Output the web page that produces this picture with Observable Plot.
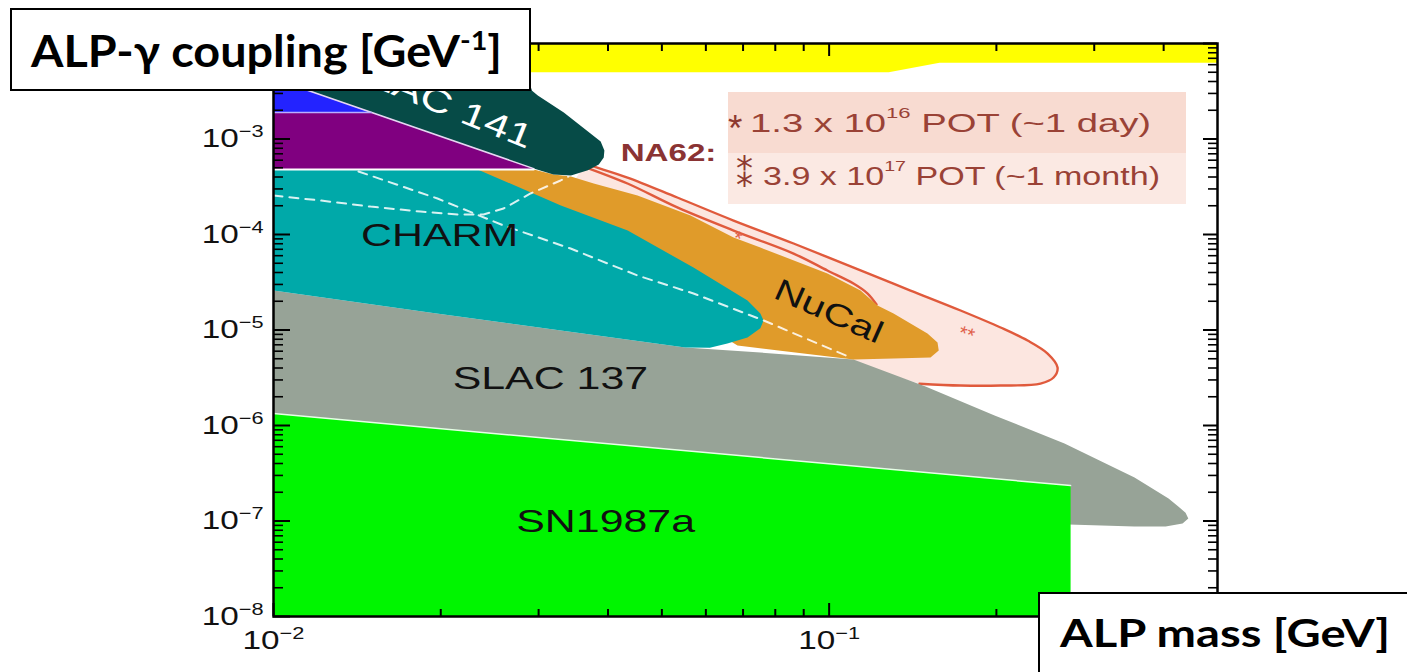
<!DOCTYPE html>
<html><head><meta charset="utf-8">
<script src="https://cdn.jsdelivr.net/npm/d3@7"></script>
<script src="https://cdn.jsdelivr.net/npm/@observablehq/plot@0.6"></script>
<style>
html,body{margin:0;padding:0;background:#fff;overflow:hidden;}
#wrap{position:relative;width:1407px;height:672px;overflow:hidden;background:#fff;}
#chart{position:absolute;left:0;top:0;}
.box{position:absolute;box-sizing:border-box;border:2.5px solid #000;background:#fff;}
.fit{position:absolute;display:inline-block;white-space:nowrap;transform-origin:0 0;}
.lab{font-family:Lato,"Open Sans",sans-serif;font-weight:700;color:#000;}
#legend{position:absolute;left:728px;top:92px;width:458px;height:112px;}
#legend .row1{position:absolute;left:0;top:0;width:458px;height:61px;background:#F8DBD1;}
#legend .row2{position:absolute;left:0;top:61px;width:458px;height:51px;background:#FBE9E3;}
#legend .t{font-family:"Liberation Sans",Arial,sans-serif;font-size:26px;line-height:26px;color:#9A4236;}
#legend .sp{font-size:15px;vertical-align:14px;line-height:0;}
#legend .ast{font-family:"Liberation Sans","DejaVu Sans",Arial,sans-serif;color:#8E3A30;}
</style></head><body>
<div id="wrap">
  <div id="chart"></div>
  <div id="legend">
    <div class="row1"></div><div class="row2"></div>
    <span class="fit ast" style="left:0px;top:18px;font-size:37px;line-height:37px;">*</span>
    <span class="fit t" data-w="401" style="left:22px;top:18px">1.3 x 10<span class="sp">16</span> POT (~1 day)</span>
    <span class="fit ast" style="left:8px;top:66px;font-size:34px;line-height:34px;font-family:'DejaVu Sans',sans-serif;">⁑</span>
    <span class="fit t" data-w="397" style="left:35px;top:71px">3.9 x 10<span class="sp">17</span> POT (~1 month)</span>
  </div>
  <div class="box" style="left:10px;top:8px;width:521px;height:83px;">
    <span class="fit lab" data-w="471" style="left:18.5px;top:17.5px;font-size:44px;line-height:44px;">ALP-γ coupling [GeV<span style="font-size:27px;vertical-align:17px;line-height:0">-1</span>]</span>
  </div>
  <div class="box" style="left:1038px;top:592px;width:400px;height:100px;">
    <span class="fit lab" data-w="330" style="left:19.5px;top:18.8px;font-size:38px;line-height:38px;">ALP mass [GeV]</span>
  </div>
</div>
<script>
// ---- axis ticks ----
const massTicks = [0.01, 0.1];
const massTickLabels = ["10^−2", "10^−1"];
const massMinorTicks = [0.02, 0.03, 0.04, 0.05, 0.06, 0.07, 0.08, 0.09, 0.2, 0.3, 0.4];
const couplingTicks = [1e-8, 1e-7, 1e-6, 1e-5, 1e-4, 1e-3, 1e-2];
const couplingLabelTicks = [1e-8, 1e-7, 1e-6, 1e-5, 1e-4, 1e-3];
const couplingTickLabels = ["10^−8", "10^−7", "10^−6", "10^−5", "10^−4", "10^−3"];

// ---- excluded regions: [ALP mass GeV, coupling GeV^-1] ----
const beamTop = [[0.01, 1e-2], [0.5, 1e-2], [0.5, 6.3e-3], [0.158, 6.3e-3], [0.128, 5.0e-3], [0.01, 5.0e-3]];
const slac141 = [[0.01, 4.3e-3], [0.01, 5.0e-3], [0.0284, 5.0e-3], [0.0292, 3.2e-3], [0.0299, 2.85e-3], [0.0333, 1.9e-3],
  [0.0372, 1.14e-3], [0.0388, 9.4e-4], [0.0394, 7.6e-4], [0.0393, 6.4e-4], [0.0385, 5.4e-4], [0.0368, 4.7e-4],
  [0.0343, 4.15e-4], [0.0319, 4.25e-4], [0.0294, 4.9e-4]];
const blueRegion = [[0.01, 4.3e-3], [0.01464, 1.99e-3], [0.0150, 1.9e-3], [0.01, 1.9e-3]];
const purpleRegion = [[0.01, 1.9e-3], [0.0150, 1.9e-3], [0.0294, 4.9e-4], [0.0294, 4.8e-4], [0.01, 4.8e-4]];
const charm = [[0.01, 4.8e-4], [0.0233, 4.8e-4], [0.0329, 2.01e-4], [0.0434, 1.10e-4], [0.0570, 4.51e-5], [0.0713, 2.04e-5],
  [0.0752, 1.49e-5], [0.0762, 1.26e-5], [0.0752, 1.04e-5], [0.0713, 8.35e-6], [0.0656, 7.22e-6], [0.0610, 6.50e-6],
  [0.0551, 6.56e-6], [0.0329, 9.88e-6], [0.01965, 1.49e-5], [0.01, 2.59e-5]];
const nucal = [[0.0233, 4.79e-4], [0.0294, 4.79e-4], [0.0319, 4.25e-4], [0.0343, 4.05e-4], [0.0377, 3.42e-4], [0.0452, 2.56e-4],
  [0.0563, 1.58e-4], [0.0673, 9.3e-5], [0.0752, 7.31e-5], [0.0993, 3.9e-5], [0.1139, 2.59e-5], [0.1222, 1.805e-5],
  [0.1306, 1.49e-5], [0.1503, 9.19e-6], [0.1567, 7.4e-6], [0.1575, 6.1e-6], [0.1522, 5.15e-6], [0.1306, 5.03e-6],
  [0.1106, 4.91e-6], [0.0684, 6.88e-6], [0.0551, 1.5e-5], [0.0329, 5e-5], [0.0233, 2e-4]];
const slac137 = [[0.01, 2.59e-5], [0.01965, 1.49e-5], [0.0329, 9.88e-6], [0.0551, 6.56e-6], [0.0752, 5.81e-6], [0.1106, 4.91e-6],
  [0.1491, 2.56e-6], [0.1985, 1.273e-6], [0.2652, 6.48e-7], [0.3545, 2.85e-7], [0.4082, 1.72e-7], [0.4250, 1.42e-7],
  [0.4380, 1.22e-7], [0.4430, 1.06e-7], [0.4326, 9.41e-8], [0.4032, 8.76e-8], [0.3545, 8.76e-8], [0.2697, 9.19e-8],
  [0.2697, 3.86e-8], [0.01, 3.86e-8]];
const sn1987a = [[0.01, 1.335e-6], [0.272, 2.35e-7], [0.272, 1e-8], [0.01, 1e-8]];

// ---- NA62 projected sensitivity contours ----
const na62Month = [[0.03645, 5.54e-4], [0.03721, 5.28e-4], [0.04336, 3.95e-4], [0.0533, 2.44e-4], [0.0673, 1.40e-4],
  [0.0863, 8.05e-5], [0.1139, 4.20e-5], [0.1401, 2.59e-5], [0.1724, 1.60e-5], [0.2035, 1.062e-5], [0.2276, 7.76e-6],
  [0.2473, 5.67e-6], [0.2577, 4.05e-6], [0.2535, 3.18e-6], [0.2401, 2.75e-6], [0.2035, 2.62e-6], [0.1724, 2.62e-6], [0.1454, 2.74e-6]];
const na62Closure = [[0.1106, 4.5e-6], [0.0563, 1.2e-4], [0.0350, 3.86e-4]];
const na62Day = [[0.03614, 5.15e-4], [0.04336, 3.42e-4], [0.0533, 1.92e-4], [0.0673, 1.10e-4], [0.0863, 6.32e-5],
  [0.0993, 4.20e-5], [0.1106, 3.07e-5], [0.1173, 2.41e-5], [0.1217, 1.85e-5]];

// ---- dashed boundaries ----
const dashedA = [[0.01422, 4.57e-4], [0.01973, 2.38e-4], [0.02594, 1.243e-4], [0.03425, 7.13e-5], [0.0452, 3.72e-5],
  [0.0570, 2.41e-5], [0.0762, 1.26e-5], [0.1093, 5.15e-6]];
const dashedB = [[0.01, 2.56e-4], [0.01215, 2.27e-4], [0.01495, 1.96e-4], [0.01839, 1.74e-4], [0.02144, 1.62e-4],
  [0.02388, 1.62e-4], [0.02594, 1.87e-4], [0.02901, 2.69e-4], [0.03286, 3.68e-4], [0.03396, 4.05e-4]];

// ---- labels ----
const labelNames = ["SLAC 141", "CHARM", "NuCal", "SLAC 137", "SN1987a", "NA62:"];
const labelMass = [0.01973, 0.0199, 0.0998, 0.0315, 0.0396, 0.0514];
const labelCoupling = [2.47e-3, 9.8e-5, 1.56e-5, 3.1e-6, 9.88e-8, 7.05e-4];
const starNames = ["*", "**"];
const starMass = [0.0684, 0.1767];
const starCoupling = [9.08e-5, 8.97e-6];

const XY = {x: d => d[0], y: d => d[1]};
const shape = (data, fill) => Plot.line(data, {...XY, fill, stroke: "none", curve: "linear-closed", clip: true});

const plotW = 1407 - 273 - 190, plotH = 672 - 43 - 56;
const couplingMinor = d3.scaleLog().domain([1e-8, 1e-2]).ticks().filter(v => !couplingTicks.some(t => Math.abs(Math.log10(v / t)) < 1e-6));

function label(i, opts) {
  return Plot.text([labelNames[i]], {x: () => labelMass[i], y: () => labelCoupling[i], text: d => d, ...opts});
}

const svg = Plot.plot({
  width: 1407, height: 672,
  marginLeft: 273, marginRight: 190, marginTop: 43, marginBottom: 56,
  style: {fontFamily: '"Liberation Sans", Arial, sans-serif', background: "transparent"},
  x: {type: "log", domain: [0.01, 0.5]},
  y: {type: "log", domain: [1e-8, 1e-2]},
  marks: [
    shape(beamTop, "#FFFF00"),
    shape([...na62Month, ...na62Closure], "#FCE6E0"),
    Plot.line(na62Month, {...XY, stroke: "#E05A3C", strokeWidth: 2.4, curve: "catmull-rom", clip: true}),
    Plot.line(na62Day, {...XY, stroke: "#E05A3C", strokeWidth: 2.4, curve: "catmull-rom", clip: true}),
    shape(slac137, "#97A397"),
    shape(nucal, "#E09B2A"),
    shape(charm, "#00A9A9"),
    Plot.line(dashedA, {...XY, stroke: "#FFFFFF", strokeOpacity: 0.85, strokeWidth: 2, strokeDasharray: "9,7", clip: true}),
    Plot.line(dashedB, {...XY, stroke: "#FFFFFF", strokeOpacity: 0.85, strokeWidth: 2, strokeDasharray: "9,7", clip: true}),
    shape(slac141, "#064B47"),
    shape(purpleRegion, "#800080"),
    shape(blueRegion, "#2323FF"),
    Plot.line([blueRegion[0], purpleRegion[2]], {...XY, stroke: "#E6D6F2", strokeWidth: 1.5, clip: true}),
    Plot.line([blueRegion[3], blueRegion[2]], {...XY, stroke: "#B9B0FF", strokeWidth: 1.5, clip: true}),
    Plot.line([purpleRegion[4], purpleRegion[3]], {...XY, stroke: "#FFFFFF", strokeWidth: 2, clip: true}),
    shape(sn1987a, "#00F500"),
    Plot.line([sn1987a[0], sn1987a[1]], {...XY, stroke: "#E6FFE6", strokeWidth: 1.5, clip: true}),
    // labels
    label(0, {fontSize: 33, fill: "#FFFFFF", rotate: 22}),
    label(1, {fontSize: 32, fill: "#111111"}),
    label(2, {fontSize: 31, fill: "#111111", rotate: 24}),
    label(3, {fontSize: 32, fill: "#111111"}),
    label(4, {fontSize: 32, fill: "#111111"}),
    label(5, {fontSize: 24, fontWeight: "bold", fill: "#8A3333"}),
    Plot.text(starNames, {x: (d, i) => starMass[i], y: (d, i) => starCoupling[i], text: d => d, fontSize: 20, fill: "#E0604A", rotate: 18}),
    // ticks inside the frame
    Plot.tickX(massTicks, {x: d => d, insetTop: plotH - 13, stroke: "#000", strokeWidth: 2}),
    Plot.tickX(massTicks, {x: d => d, insetBottom: plotH - 13, stroke: "#000", strokeWidth: 2}),
    Plot.tickX(massMinorTicks, {x: d => d, insetTop: plotH - 7, stroke: "#000", strokeWidth: 2}),
    Plot.tickX(massMinorTicks, {x: d => d, insetBottom: plotH - 8, stroke: "#000", strokeWidth: 2}),
    Plot.tickY(couplingTicks, {y: d => d, insetRight: plotW - 17, stroke: "#000", strokeWidth: 2}),
    Plot.tickY(couplingTicks, {y: d => d, insetLeft: plotW - 14, stroke: "#000", strokeWidth: 2}),
    Plot.tickY(couplingMinor, {y: d => d, insetRight: plotW - 10, stroke: "#000", strokeWidth: 1.6}),
    Plot.tickY(couplingMinor, {y: d => d, insetLeft: plotW - 9, stroke: "#000", strokeWidth: 1.6}),
    Plot.axisX({ticks: massTicks, tickFormat: d => massTickLabels[massTicks.indexOf(d)], tickSize: 0, tickPadding: 14, fontSize: 26, label: null, anchor: "bottom", fill: "#111"}),
    Plot.axisY({ticks: couplingLabelTicks, tickFormat: d => couplingTickLabels[couplingLabelTicks.indexOf(d)], tickSize: 0, tickPadding: 10, fontSize: 26, label: null, anchor: "left", fill: "#111"}),
    Plot.frame({stroke: "#000", strokeWidth: 2.5})
  ]
});
document.getElementById("chart").appendChild(svg);

// tick labels: base "10" with a raised exponent
svg.querySelectorAll("text").forEach(t => {
  const s = t.textContent;
  if (!s.includes("^")) return;
  const [base, exp] = s.split("^");
  t.textContent = base;
  const ts = document.createElementNS("http://www.w3.org/2000/svg", "tspan");
  ts.setAttribute("font-size", "17");
  ts.setAttribute("dy", "-10");
  ts.textContent = exp;
  t.appendChild(ts);
});
// horizontal stretch of the reference figure
svg.querySelectorAll("text").forEach(t => {
  const s = t.textContent;
  if (s.includes("*")) return;
  const k = s.startsWith("10") ? 1.28 : (s === "NA62:" ? 1.38 : 1.34);
  const L = t.getComputedTextLength();
  t.setAttribute("textLength", L * k);
  t.setAttribute("lengthAdjust", "spacingAndGlyphs");
});
document.querySelectorAll(".fit[data-w]").forEach(el => {
  const w = el.getBoundingClientRect().width;
  el.style.transform = `scaleX(${+el.dataset.w / w})`;
});
</script>
</body></html>
